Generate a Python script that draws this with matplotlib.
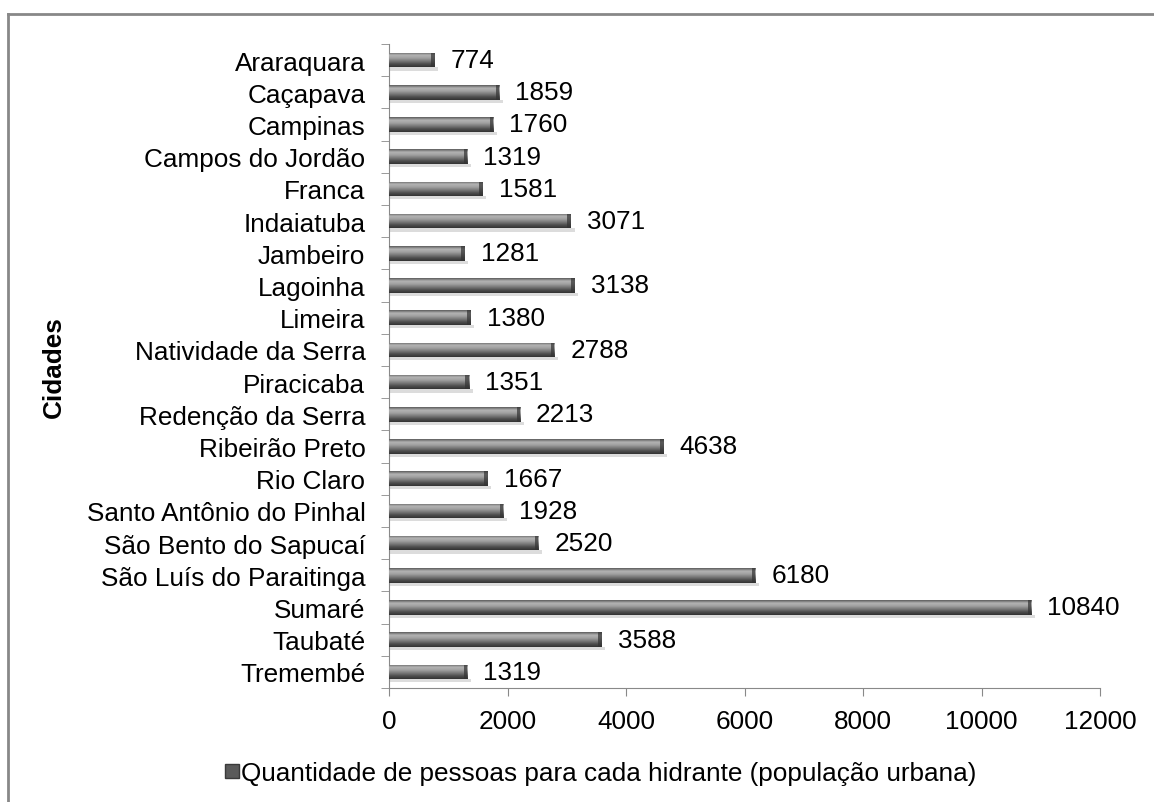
import numpy as np
import matplotlib
matplotlib.use("Agg")
import matplotlib.pyplot as plt
from matplotlib.colors import LinearSegmentedColormap
from matplotlib.lines import Line2D
from matplotlib.patches import Rectangle

plt.rcParams['font.family'] = ['Liberation Sans', 'DejaVu Sans']

cidades = ["Araraquara", "Caçapava", "Campinas", "Campos do Jordão", "Franca",
           "Indaiatuba", "Jambeiro", "Lagoinha", "Limeira", "Natividade da Serra",
           "Piracicaba", "Redenção da Serra", "Ribeirão Preto", "Rio Claro",
           "Santo Antônio do Pinhal", "São Bento do Sapucaí",
           "São Luís do Paraitinga", "Sumaré", "Taubaté", "Tremembé"]
pessoas = [774, 1859, 1760, 1319, 1581, 3071, 1281, 3138, 1380, 2788,
           1351, 2213, 4638, 1667, 1928, 2520, 6180, 10840, 3588, 1319]
xticks = [0, 2000, 4000, 6000, 8000, 10000, 12000]
legenda = "Quantidade de pessoas para cada hidrante (população urbana)"

fs = 18.8
fig = plt.figure(figsize=(11.54, 8.03), dpi=100)
ax = fig.add_axes([389/1154, 1-689/803, (1100-389)/1154, (689-45)/803])

y = np.arange(len(cidades))
h = 0.45
bars = ax.barh(y, pessoas, height=h, color="#5a5a5a", edgecolor="none", zorder=2)

# bevel-like shading for each bar
cm = LinearSegmentedColormap.from_list("bev", ["#5c5c5c", "#b4b4b4", "#a0a0a0",
                                               "#787878", "#4e4e4e", "#333333"])
grad = np.linspace(0, 1, 64).reshape(-1, 1)
for b in bars:
    x0, y0 = b.get_x(), b.get_y()
    w, hh = b.get_width(), b.get_height()
    # soft shadow
    ax.add_patch(Rectangle((x0, y0 + hh), w + 60, 0.1, color="#dcdcdc", zorder=1, lw=0))
    im = ax.imshow(grad, extent=[x0, x0 + w, y0 + hh, y0], aspect="auto",
                   cmap=cm, zorder=3, interpolation="bilinear")
    im.set_clip_path(b)
    # darker bevel at right end
    ax.add_patch(Rectangle((x0 + w - 60, y0), 60, hh, color="#333333", alpha=0.7,
                           zorder=4, lw=0))

for yi, v in zip(y, pessoas):
    ax.text(v + 270, yi, str(v), va="center", ha="left", fontsize=fs, color="black")

ax.set_xlim(0, 12000)
ax.set_ylim(len(cidades) - 0.5, -0.5)
ax.set_xticks(xticks)
ax.set_xticklabels([str(t) for t in xticks], fontsize=fs)
ax.set_yticks(y)
ax.set_yticklabels(cidades, fontsize=fs)
ax.set_yticks(np.arange(len(cidades) + 1) - 0.5, minor=True)
ax.tick_params(axis="y", which="major", length=0, pad=17)
ax.tick_params(axis="y", which="minor", length=6, color="#898989", direction="out")
ax.tick_params(axis="x", length=6, color="#898989", pad=9)
for s in ["top", "right"]:
    ax.spines[s].set_visible(False)
for s in ["left", "bottom"]:
    ax.spines[s].set_color("#898989")
ax.set_ylabel("Cidades", fontsize=fs, fontweight="bold")
ax.yaxis.set_label_coords(-0.454, 0.5)

handle = Line2D([], [], marker="s", linestyle="none", markersize=10,
                markerfacecolor="#5a5a5a", markeredgecolor="#3a3a3a")
fig.legend([handle], [legenda], loc="center", bbox_to_anchor=(0.52, 0.036),
           frameon=False, fontsize=fs, handletextpad=0.05, handlelength=0.6)

# outer chart border
fig.add_artist(Line2D([8/1154, 8/1154], [0, 1-15/803], color="#888888", lw=2))
fig.add_artist(Line2D([8/1154, 1], [1-15/803, 1-15/803], color="#888888", lw=2))

fig.savefig("out.png", dpi=100)
